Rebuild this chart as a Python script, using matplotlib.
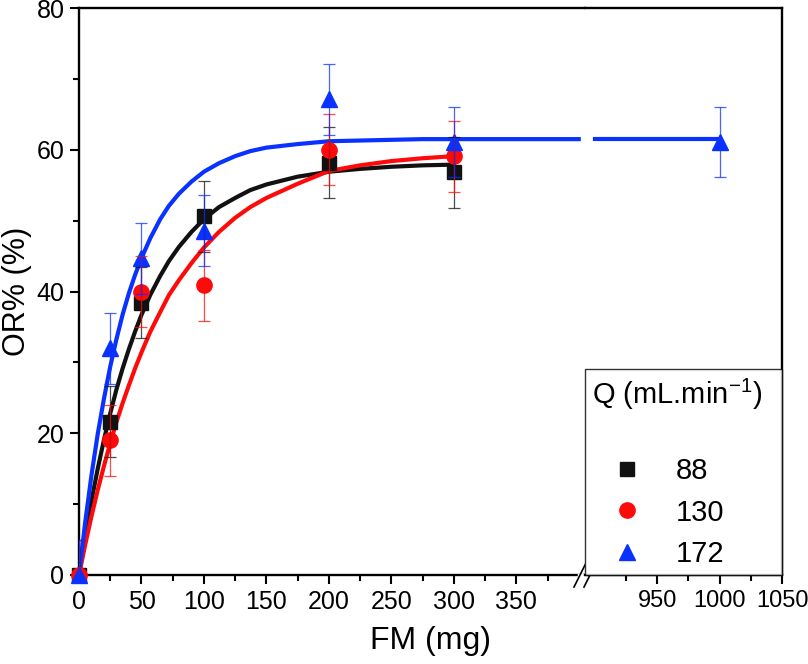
import numpy as np
import matplotlib
matplotlib.use("Agg")
import matplotlib.pyplot as plt
from matplotlib.lines import Line2D

# measured points
fm = [0, 25, 50, 100, 200, 300]
or_88 = [0, 21.6, 38.4, 50.6, 58.2, 56.8]
or_130 = [0, 19.0, 40.0, 40.9, 60.0, 59.1]
fm_172 = [0, 25, 50, 100, 200, 300, 1000]
or_172 = [0, 32.0, 44.7, 48.6, 67.1, 61.1, 61.1]
err_88 = [5, 5, 5, 5, 5, 5]
err_130 = [5, 5, 5, 5, 5, 5]
err_172 = [5, 5, 5, 5, 5, 5, 5]

# fitted curves
fit_x = [0, 5, 10, 15, 20, 25, 30, 35, 40, 45, 50, 57, 65, 72, 80, 90, 100, 112, 125,
         137, 150, 175, 200, 225, 250, 275, 300]
fit_88 = [0, 5.5, 10.5, 15.0, 19.1, 22.8, 26.2, 29.2, 31.9, 34.4, 36.7, 39.5, 42.2,
          44.3, 46.3, 48.4, 50.2, 51.9, 53.2, 54.3, 55.1, 56.2, 56.9, 57.3, 57.6, 57.8, 57.9]
fit_130 = [0, 4.3, 8.3, 12.0, 15.4, 18.6, 21.6, 24.3, 26.8, 29.2, 31.4, 34.3, 37.1,
           39.5, 41.6, 44.0, 46.2, 48.4, 50.4, 51.9, 53.2, 55.2, 57.0, 57.8, 58.4, 58.8, 59.1]
fit_x_172 = [0, 5, 10, 15, 20, 25, 30, 35, 40, 45, 50, 57, 65, 72, 80, 90, 100, 112, 125,
             137, 150, 175, 200, 225, 250, 275, 300, 400, 900, 1000]
fit_172 = [0, 7.5, 14.1, 19.9, 24.9, 29.4, 33.3, 36.8, 39.8, 42.4, 44.7, 47.5, 50.2,
           52.1, 53.8, 55.5, 56.9, 58.1, 59.1, 59.8, 60.3, 60.8, 61.2, 61.3, 61.4, 61.5,
           61.5, 61.5, 61.5, 61.5]

labels = ["88", "130", "172"]
colors = ["#111111", "#ff0a0a", "#0a32ff"]

plt.rcParams['mathtext.fontset'] = 'custom'
plt.rcParams['mathtext.rm'] = 'Liberation Sans'
plt.rcParams['mathtext.default'] = 'regular'
regular = ['Liberation Sans', 'DejaVu Sans']

W, H = 808, 664
fig = plt.figure(figsize=(W / 100, H / 100), dpi=100)
ax1 = fig.add_axes([79 / W, 89 / H, 506 / W, 567 / H])
ax2 = fig.add_axes([585 / W, 89 / H, 197 / W, 567 / H])

series = [
    (fm, or_88, err_88, fit_x, fit_88, 's', 10),
    (fm, or_130, err_130, fit_x, fit_130, 'o', 11),
    (fm_172, or_172, err_172, fit_x_172, fit_172, '^', 12),
]

for ax in (ax1, ax2):
    for (x, y, e, fx, fy, m, ms), c in zip(series, colors):
        if ax is ax1:
            px = [v for v in fx if v <= 400]
            py = fy[:len(px)]
        else:
            px = [v for v in fx if v >= 900]
            py = fy[len(fy) - len(px):]
        ax.plot(px, py, color=c, lw=3, zorder=2, solid_joinstyle='round')
        ax.plot(x, y, ls='none', marker=m, ms=ms, color=c, mec=c, zorder=3, clip_on=False)
        ax.errorbar(x, y, yerr=e, fmt='none', ecolor=c, elinewidth=0.9, capsize=4.5,
                    capthick=0.9, alpha=0.75, zorder=4)
    ax.set_ylim(0, 80)
    for s in ax.spines.values():
        s.set_linewidth(1.7)
    ax.tick_params(which='major', direction='out', length=6.5, width=1.5, labelsize=18, pad=4)
    ax.tick_params(which='minor', direction='out', length=4, width=1.5)

ax1.set_xlim(0, 405)
ax1.set_xticks(np.arange(0, 351, 50))
ax1.set_xticks(np.arange(25, 401, 50), minor=True)
ax1.set_yticks(np.arange(0, 81, 20))
ax1.set_yticks(np.arange(10, 80, 20), minor=True)
ax1.spines['right'].set_visible(False)
for t in ax1.get_xticklabels() + ax1.get_yticklabels():
    t.set_family(regular)

ax2.set_xlim(892, 1050)
ax2.set_xticks([950, 1000, 1050])
ax2.set_xticks([925, 975, 1025], minor=True)
ax2.spines['left'].set_visible(False)
ax2.tick_params(axis='y', which='both', left=False, labelleft=False)
ax2.tick_params(axis='x', labelsize=17)
for t in ax2.get_xticklabels():
    t.set_family(regular)

ax1.set_xlabel("FM (mg)", fontsize=23, family=regular)
ax1.xaxis.set_label_coords(351 / 506, -0.09)
ax1.set_ylabel("OR% (%)", fontsize=22, family=regular)
ax1.yaxis.set_label_coords(-0.092, 0.5)

# break marks on the bottom axis
for dx in (-5, 5):
    ax1.plot([405 + (dx - 6) / 1.25, 405 + (dx + 6) / 1.25], [-1.7, 1.7], color='black',
             lw=1.2, clip_on=False, zorder=6)
ax1.plot([400, 405], [0, 0], color='white', lw=2.5, clip_on=False, zorder=5)

handles = [Line2D([], [], ls='none', marker=m, ms=ms, color=c)
           for (_, _, _, _, _, m, ms), c in zip(series, colors)]
leg = ax2.legend(handles, labels, title="Q (mL.min$^{-1}$)\n", loc='lower left',
                 bbox_to_anchor=(0, 0, 1, 0.3), mode='expand', borderaxespad=0,
                 fontsize=21, title_fontsize=21, frameon=True, fancybox=False,
                 edgecolor='black', borderpad=0.25, handlelength=2.4,
                 handletextpad=0.45, labelspacing=0.45, alignment='left',
                 prop={'family': regular, 'size': 21})
leg.get_frame().set_linewidth(1.0)
leg.get_title().set_family(regular)
leg.set_zorder(10)

fig.savefig("out.png", dpi=100)
